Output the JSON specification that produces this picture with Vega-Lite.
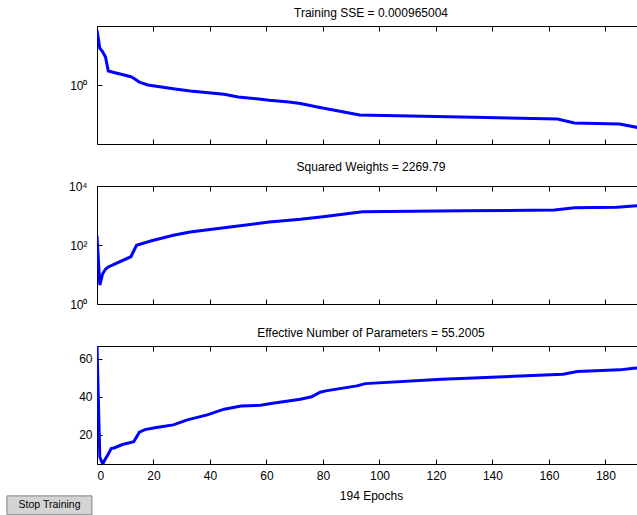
{
  "$schema": "https://vega.github.io/schema/vega-lite/v6.json",
  "autosize": {"type": "pad"},
  "padding": {"left": 5, "top": 6, "right": 0, "bottom": 0},
  "background": "white",
  "datasets": {
    "sse": [
      {"epoch": 0, "v": 8.45}, {"epoch": 1, "v": 4.19}, {"epoch": 2, "v": 3.66}, {"epoch": 3, "v": 2.98},
      {"epoch": 4, "v": 1.73}, {"epoch": 5, "v": 1.68}, {"epoch": 12, "v": 1.38}, {"epoch": 13, "v": 1.3},
      {"epoch": 15, "v": 1.12}, {"epoch": 18, "v": 1.0}, {"epoch": 27, "v": 0.865}, {"epoch": 33, "v": 0.791},
      {"epoch": 45, "v": 0.695}, {"epoch": 50, "v": 0.626}, {"epoch": 58, "v": 0.573}, {"epoch": 61, "v": 0.551},
      {"epoch": 68, "v": 0.515}, {"epoch": 72, "v": 0.486}, {"epoch": 78, "v": 0.424}, {"epoch": 93, "v": 0.31},
      {"epoch": 129, "v": 0.287}, {"epoch": 163, "v": 0.265}, {"epoch": 169, "v": 0.227}, {"epoch": 185, "v": 0.218},
      {"epoch": 194, "v": 0.18}
    ],
    "sw": [
      {"epoch": 0, "v": 202}, {"epoch": 1, "v": 4.4}, {"epoch": 2, "v": 10.6}, {"epoch": 3, "v": 15},
      {"epoch": 4, "v": 18}, {"epoch": 6, "v": 22}, {"epoch": 12, "v": 40}, {"epoch": 14, "v": 98},
      {"epoch": 19, "v": 137}, {"epoch": 27, "v": 214}, {"epoch": 33, "v": 275}, {"epoch": 45, "v": 385},
      {"epoch": 61, "v": 603}, {"epoch": 72, "v": 742}, {"epoch": 80, "v": 912}, {"epoch": 94, "v": 1349},
      {"epoch": 130, "v": 1440}, {"epoch": 162, "v": 1535}, {"epoch": 169, "v": 1845}, {"epoch": 184, "v": 1898},
      {"epoch": 194, "v": 2269.79}
    ],
    "ep": [
      {"epoch": 0, "v": 66.6}, {"epoch": 1, "v": 8.5}, {"epoch": 2, "v": 4.8}, {"epoch": 3, "v": 7.5},
      {"epoch": 4, "v": 10}, {"epoch": 5, "v": 12.9}, {"epoch": 6, "v": 13.2}, {"epoch": 9, "v": 15},
      {"epoch": 13, "v": 16.5}, {"epoch": 15, "v": 21.5}, {"epoch": 17, "v": 22.8}, {"epoch": 21, "v": 23.9},
      {"epoch": 27, "v": 25.3}, {"epoch": 32, "v": 27.9}, {"epoch": 39, "v": 30.5}, {"epoch": 45, "v": 33.5},
      {"epoch": 51, "v": 35.2}, {"epoch": 58, "v": 35.6}, {"epoch": 61, "v": 36.3}, {"epoch": 72, "v": 38.7},
      {"epoch": 76, "v": 40}, {"epoch": 79, "v": 42.4}, {"epoch": 81, "v": 43.1}, {"epoch": 92, "v": 45.7},
      {"epoch": 95, "v": 46.9}, {"epoch": 122, "v": 49.2}, {"epoch": 129, "v": 49.6}, {"epoch": 165, "v": 51.8},
      {"epoch": 170, "v": 53.2}, {"epoch": 185, "v": 54.1}, {"epoch": 190, "v": 55.0}, {"epoch": 194, "v": 55.2}
    ],
    "button": [{"label": "Stop Training"}]
  },
  "spacing": 42,
  "bounds": "flush",
  "vconcat": [
    {
      "title": "Training SSE = 0.000965004",
      "width": 548,
      "height": 118,
      "data": {"name": "sse"},
      "layer": [
        {
          "mark": {"type": "line", "clip": true},
          "encoding": {
            "x": {"field": "epoch", "type": "quantitative", "scale": {"domain": [0, 194], "nice": false},
                  "axis": {"values": [0, 20, 40, 60, 80, 100, 120, 140, 160, 180], "labels": false, "title": null, "ticks": true}},
            "y": {"field": "v", "type": "quantitative", "scale": {"type": "log", "domain": [0.1, 10], "nice": false},
                  "axis": {"values": [1], "labelExpr": "'10⁰'", "title": null, "labelPadding": 10, "ticks": true}}
          }
        },
        {
          "mark": {"type": "line", "strokeOpacity": 0},
          "encoding": {
            "x": {"field": "epoch", "type": "quantitative",
                  "axis": {"orient": "top", "values": [0, 20, 40, 60, 80, 100, 120, 140, 160, 180], "labels": false, "title": null, "ticks": true}},
            "y": {"field": "v", "type": "quantitative"}
          }
        }
      ],
      "resolve": {"axis": {"x": "independent"}}
    },
    {
      "title": "Squared Weights = 2269.79",
      "width": 548,
      "height": 118,
      "data": {"name": "sw"},
      "layer": [
        {
          "mark": {"type": "line", "clip": true},
          "encoding": {
            "x": {"field": "epoch", "type": "quantitative", "scale": {"domain": [0, 194], "nice": false},
                  "axis": {"values": [0, 20, 40, 60, 80, 100, 120, 140, 160, 180], "labels": false, "title": null, "ticks": true}},
            "y": {"field": "v", "type": "quantitative", "scale": {"type": "log", "domain": [1, 10000], "nice": false},
                  "axis": {"values": [1, 100, 10000], "labelExpr": "datum.value == 1 ? '10⁰' : datum.value == 100 ? '10²' : '10⁴'", "title": null, "labelPadding": 10, "ticks": true}}
          }
        },
        {
          "mark": {"type": "line", "strokeOpacity": 0},
          "encoding": {
            "x": {"field": "epoch", "type": "quantitative",
                  "axis": {"orient": "top", "values": [0, 20, 40, 60, 80, 100, 120, 140, 160, 180], "labels": false, "title": null, "ticks": true}},
            "y": {"field": "v", "type": "quantitative"}
          }
        }
      ],
      "resolve": {"axis": {"x": "independent"}}
    },
    {
      "title": "Effective Number of Parameters = 55.2005",
      "width": 548,
      "height": 118,
      "data": {"name": "ep"},
      "layer": [
        {
          "mark": {"type": "line", "clip": true},
          "encoding": {
            "x": {"field": "epoch", "type": "quantitative", "scale": {"domain": [0, 194], "nice": false},
                  "axis": {"values": [0, 20, 40, 60, 80, 100, 120, 140, 160, 180], "title": "194 Epochs", "labelPadding": 6, "titlePadding": 9, "ticks": true}},
            "y": {"field": "v", "type": "quantitative", "scale": {"domain": [4.8, 66.6], "nice": false, "zero": false},
                  "axis": {"values": [20, 40, 60], "title": null, "labelPadding": 5, "ticks": true}}
          }
        },
        {
          "mark": {"type": "line", "strokeOpacity": 0},
          "encoding": {
            "x": {"field": "epoch", "type": "quantitative",
                  "axis": {"orient": "top", "values": [0, 20, 40, 60, 80, 100, 120, 140, 160, 180], "labels": false, "title": null, "ticks": true}},
            "y": {"field": "v", "type": "quantitative"}
          }
        },
        {
          "data": {"name": "button"},
          "mark": {"type": "rect", "fill": "#d4d4d4", "stroke": "#808080", "strokeWidth": 1},
          "encoding": {
            "x": {"datum": -31.9, "type": "quantitative", "axis": null},
            "x2": {"datum": -1.8},
            "y": {"datum": -11.9, "type": "quantitative"},
            "y2": {"datum": -21.8}
          }
        },
        {
          "data": {"name": "button"},
          "mark": {"type": "text", "fontSize": 10.5, "fontWeight": "normal", "font": "Liberation Sans", "color": "#000", "baseline": "middle", "align": "center"},
          "encoding": {
            "text": {"field": "label"},
            "x": {"datum": -16.8, "type": "quantitative", "axis": null},
            "y": {"datum": -16.9, "type": "quantitative"}
          }
        }
      ],
      "resolve": {"axis": {"x": "independent"}}
    }
  ],
  "config": {
    "font": "Liberation Sans",
    "view": {"stroke": "#000", "strokeWidth": 1},
    "axis": {
      "grid": false,
      "domain": false,
      "ticks": true,
      "offset": -5,
      "tickColor": "#000000",
      "tickOpacity": 1,
      "tickSize": 5,
      "tickWidth": 1,
      "zindex": 1,
      "labelColor": "#000",
      "labelFontSize": 12,
      "labelFont": "Liberation Sans",
      "titleFont": "Liberation Sans",
      "titleFontSize": 12,
      "titleFontWeight": "normal",
      "titleColor": "#000"
    },
    "title": {"fontSize": 12, "fontWeight": "normal", "color": "#000", "offset": 6, "font": "Liberation Sans"},
    "line": {"color": "#0000ff", "strokeWidth": 3}
  }
}
